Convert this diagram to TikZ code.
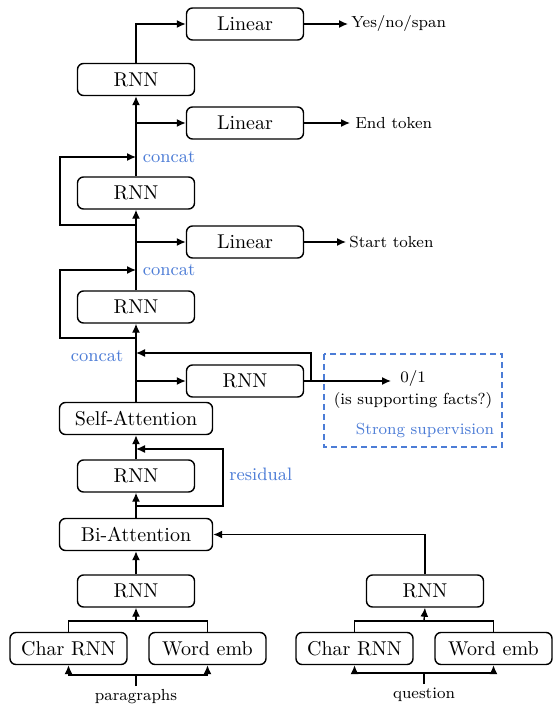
\documentclass[tikz,border=0pt]{standalone}
\usetikzlibrary{arrows.meta}
\definecolor{lblue}{RGB}{76,124,214}
\begin{document}
\begin{tikzpicture}[x=0.5pt,y=-0.5pt,
  box/.style={draw, rounded corners=3pt, line width=0.7pt, minimum height=16pt, minimum width=58.5pt, inner sep=0pt},
  wbox/.style={box, minimum width=76.5pt},
  arr/.style={-{Latex[length=4.5pt,width=4pt]}, line width=0.7pt},
  ln/.style={line width=0.7pt},
  lbl/.style={text=lblue, font=\small, inner sep=0pt},
  outtxt/.style={font=\footnotesize, anchor=west, inner sep=1.5pt}]
\useasboundingbox (0,0) rectangle (553,706);
% boxes
\node[box] (lin1) at (245,24) {Linear};
\node[box] (rnn1) at (136,79.5) {RNN};
\node[box] (lin2) at (245,123) {Linear};
\node[box] (rnn2) at (136,193) {RNN};
\node[box] (lin3) at (245,242) {Linear};
\node[box] (rnn3) at (136,307) {RNN};
\node[box] (rnns) at (245,381) {RNN};
\node[wbox] (sa) at (136,418.5) {Self-Attention};
\node[box] (rnn4) at (136,476) {RNN};
\node[wbox] (bi) at (136,534.5) {Bi-Attention};
\node[box] (rnn5) at (136,591) {RNN};
\node[box] (charL) at (68.5,648.5) {Char RNN};
\node[box] (wordL) at (207.5,648.5) {Word emb};
\node[box] (rnnQ) at (425,591) {RNN};
\node[box] (charQ) at (354.5,648.5) {Char RNN};
\node[box] (wordQ) at (493.5,648.5) {Word emb};
% output texts
\node[outtxt] (yes) at (348,24) {Yes/no/span};
\node[outtxt, inner sep=2.5pt] (endt) at (350,123) {End token};
\node[outtxt] (startt) at (346,242) {Start token};
\node[font=\footnotesize, inner sep=0pt] (zo) at (413,378) {0/1};
\node[font=\footnotesize, inner sep=0pt] (isf) at (413,400) {(is supporting facts?)};
\node[lbl, font=\footnotesize] (strong) at (425,431) {Strong supervision};
\draw[lblue, dash pattern=on 3pt off 2pt, line width=0.6pt] (324,354) rectangle (502,447);
\node[font=\footnotesize, inner sep=0pt] (par) at (136,697) {paragraphs};
\node[font=\footnotesize, inner sep=0pt] (que) at (424,695) {question};
% labels
\node[lbl] (cc1) at (169,157) {concat};
\node[lbl] (cc2) at (169,270) {concat};
\node[lbl] (cc3) at (97,356) {concat};
\node[lbl, anchor=west] (res) at (229,474) {residual};
% coordinates
\coordinate (b1) at (136,123);
\coordinate (b2) at (136,242);
\coordinate (b3) at (136,381);
\coordinate (l1a) at (136,225);
\coordinate (l1b) at (136,157);
\coordinate (l2a) at (136,338);
\coordinate (l2b) at (136,270);
\coordinate (c3) at (136,353);
\coordinate (zoin) at (391,381);
\coordinate (r0) at (136,506);
\coordinate (r1) at (136,449);
\coordinate (jL) at (136,621);
\coordinate (jQ) at (424,621);
\coordinate (pL) at (136,675);
\coordinate (pin) at (136,686);
\coordinate (qL) at (424,673);
\coordinate (qin) at (424,684);
% main column
\draw[arr] (rnn1.north) |- (lin1.west);
\draw[arr] (lin1.east) -- (lin1.east -| yes.west);
\draw[arr] (rnn2.north) -- (rnn1.south);
\draw[arr] (b1) -- (lin2.west);
\draw[arr] (lin2.east) -- (lin2.east -| endt.west);
\draw[arr] (l1a) -| (60,157) -- (l1b);
\draw[arr] (rnn3.north) -- (rnn2.south);
\draw[arr] (b2) -- (lin3.west);
\draw[arr] (lin3.east) -- (lin3.east -| startt.west);
\draw[arr] (l2a) -| (60,270) -- (l2b);
\draw[arr] (sa.north) -- (rnn3.south);
\draw[arr] (b3) -- (rnns.west);
\draw[arr] (rnns.east) -- (zoin);
\draw[arr] (311,381) |- (c3);
\draw[arr] (rnn4.north) -- (sa.south);
\draw[arr] (r0) -| (223,449) -- (r1);
\draw[arr] (bi.north) -- (rnn4.south);
\draw[arr] (rnn5.north) -- (bi.south);
\draw[arr] (rnnQ.north) |- (bi.east);
% inputs
\draw[ln] (charL.north) |- (jL) -| (wordL.north);
\draw[arr] (jL) -- (rnn5.south);
\draw[ln] (pin) -- (pL);
\draw[arr] (pL) -| (charL.south);
\draw[arr] (pL) -| (wordL.south);
\draw[ln] (charQ.north) |- (jQ) -| (wordQ.north);
\draw[arr] (jQ) -- (rnnQ.south);
\draw[ln] (qin) -- (qL);
\draw[arr] (qL) -| (charQ.south);
\draw[arr] (qL) -| (wordQ.south);
\end{tikzpicture}
\end{document}
